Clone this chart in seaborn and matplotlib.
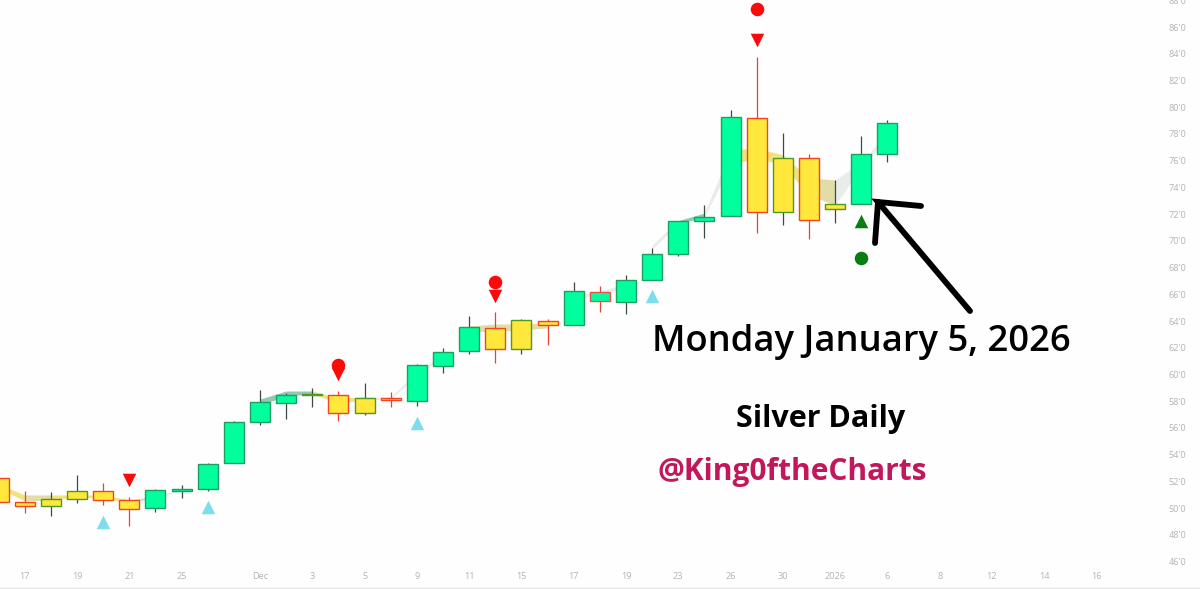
import numpy as np
import pandas as pd
import seaborn as sns
import matplotlib.pyplot as plt
from matplotlib.lines import Line2D

# daily candles
opens = [52.27, 50.48, 50.68, 51.30, 51.28, 50.60, 50.00, 51.28, 51.40, 53.35, 56.46, 57.86,
         58.52, 58.46, 58.26, 58.22, 58.04, 60.61, 61.78, 63.46, 64.05, 64.02, 63.70, 65.48,
         65.40, 67.09, 68.99, 71.46, 71.84, 79.22, 76.18, 76.18, 72.78, 72.74, 76.52]
highs = [52.27, 51.30, 51.18, 52.45, 51.85, 50.81, 51.40, 51.73, 53.37, 56.54, 58.84, 58.63,
         58.96, 58.74, 59.34, 58.71, 60.81, 61.96, 64.35, 64.65, 64.17, 64.15, 66.90, 66.62,
         67.42, 69.44, 71.52, 72.66, 79.80, 83.78, 78.05, 76.48, 74.56, 77.85, 79.05]
lows = [50.48, 49.65, 49.38, 50.40, 50.23, 48.66, 49.73, 50.73, 51.30, 53.35, 56.19, 56.64,
        57.59, 56.49, 56.94, 57.54, 57.66, 60.09, 61.51, 60.84, 61.51, 62.23, 63.70, 64.70,
        64.55, 67.09, 68.90, 70.21, 71.84, 70.59, 71.19, 70.16, 71.31, 72.74, 75.92]
closes = [50.48, 50.18, 50.13, 50.66, 50.60, 49.93, 51.35, 51.40, 53.28, 56.42, 57.92, 58.44,
          58.44, 57.09, 57.09, 58.11, 60.69, 61.70, 63.57, 61.88, 61.88, 63.68, 66.22, 66.19,
          67.09, 68.99, 71.45, 71.81, 79.29, 72.14, 72.14, 71.56, 72.36, 76.50, 78.80]
candle_kind = ['yr', 'yr', 'yg', 'yg', 'yr', 'yr', 'g', 'g', 'g', 'g', 'g', 'g',
               'yg', 'yr', 'yg', 'yr', 'g', 'g', 'g', 'yr', 'yg', 'yr', 'g', 'gr',
               'g', 'g', 'g', 'g', 'g', 'yr', 'yg', 'yr', 'yg', 'g', 'g']

# the soft ribbon behind the candles
band_upper = [51.80, 50.98, 50.98, 50.98, 50.98, 50.60, 50.90, 51.43, 52.10, 55.09, 58.16, 58.76,
              58.76, 58.24, 58.31, 58.31, 60.18, 61.53, 63.63, 63.78, 63.78, 63.85, 65.87, 66.25,
              66.77, 69.69, 71.52, 72.08, 76.80, 76.95, 76.43, 74.71, 74.56, 75.90, 78.07]
band_lower = [51.50, 50.53, 50.60, 50.83, 50.75, 50.38, 50.75, 51.28, 51.95, 54.72, 57.71, 58.39,
              58.54, 57.86, 58.09, 58.16, 59.88, 61.31, 63.18, 63.25, 63.33, 63.48, 65.65, 66.02,
              66.47, 69.39, 71.27, 71.79, 75.68, 76.21, 75.68, 73.43, 72.68, 75.46, 77.70]
band_kind = ['yellow', 'olive', 'yellow', 'yellow', 'yellow', 'grey', 'faint', None, None, None,
             'teal', 'teal', 'yellow', 'yellow', 'faint', 'faint', 'faint', None, 'olive', 'olive',
             'olive', None, 'faint', 'faint', None, 'faint', 'teal', 'faint', 'yellow', 'yellow',
             'yellow', 'olive', 'faint', 'faint']

# signal markers (candle number, price)
aqua_x = [4, 8, 16, 25]
aqua_y = [48.96, 50.08, 56.37, 65.87]
red_tri_x = [5, 13, 19, 29]
red_tri_y = [52.10, 60.03, 65.87, 85.03]
red_dot_x = [13, 19, 29]
red_dot_y = [60.71, 66.92, 87.32]
green_tri_x = [33]
green_tri_y = [71.45]
green_dot_x = [33]
green_dot_y = [68.72]

date_tick_pos = [1, 3, 5, 7, 10, 12, 14, 16, 18, 20, 22, 24, 26, 28, 30, 32, 34, 36, 38, 40, 42]
date_tick_labels = ['17', '19', '21', '25', 'Dec', '3', '5', '9', '11', '15', '17', '19', '23',
                    '26', '30', '2026', '6', '8', '12', '14', '16']
price_ticks = list(range(46, 90, 2))

fills = {'g': '#00ff9d', 'gr': '#00ff9d', 'yr': '#ffe73b', 'yg': '#ffe73b'}
edges = {'g': '#1f9e62', 'gr': '#e2574c', 'yr': '#f2451f', 'yg': '#4c9a1e'}
wicks = {'g': '#3b4a48', 'gr': '#e2453c', 'yr': '#ec4034', 'yg': '#3b4a48'}
band_colors = {'yellow': '#f1e280', 'olive': '#e2dda6', 'grey': '#d6dad4', 'teal': '#8ec9b6',
               'faint': '#e9ecea'}

df = pd.DataFrame({'open': opens, 'high': highs, 'low': lows, 'close': closes, 'kind': candle_kind})
df['x'] = np.arange(len(df))

sns.set_theme(style='white')
plt.rcParams['font.family'] = ['Open Sans', 'DejaVu Sans']

fig = plt.figure(figsize=(12, 5.89), dpi=100, facecolor='#fefefe')
ax = fig.add_axes([0, 21 / 589, 1160 / 1200, 568 / 589], facecolor='#fefefe')

# ribbon
for i, kind in enumerate(band_kind):
    if kind is None:
        continue
    ax.fill_between([i, i + 1], band_lower[i:i + 2], band_upper[i:i + 2],
                    color=band_colors[kind], lw=0, zorder=1)

# candles
for kind, part in df.groupby('kind'):
    ax.vlines(part['x'], part['low'], part['high'], color=wicks[kind], lw=0.9, zorder=2)
    ax.bar(part['x'], (part['open'] - part['close']).abs(),
           bottom=part[['open', 'close']].min(axis=1), width=0.765,
           facecolor=fills[kind], edgecolor=edges[kind], lw=1.0, zorder=3)

# signals
marker_sets = [(aqua_x, aqua_y, '^', '#7fdcec'), (red_tri_x, red_tri_y, 'v', '#fb0a0a'),
               (red_dot_x, red_dot_y, 'o', '#fb0a0a'), (green_tri_x, green_tri_y, '^', '#0a7d12'),
               (green_dot_x, green_dot_y, 'o', '#0a7d12')]
for xs, ys, mark, col in marker_sets:
    sns.scatterplot(x=xs, y=ys, marker=mark, color=col, s=95, linewidth=0, ax=ax, zorder=4)

ax.set_xlim(0.054, 44.43)
ax.set_ylim(45.51, 88.03)
ax.set_xticks(date_tick_pos)
ax.set_xticklabels(date_tick_labels)
ax.set_yticks(price_ticks)
ax.set_yticklabels([f"{p}'0" for p in price_ticks])
ax.yaxis.tick_right()
ax.tick_params(axis='both', length=0, labelsize=6.6, labelcolor='#b4b4b8')
ax.tick_params(axis='x', pad=3)
ax.tick_params(axis='y', pad=6)
sns.despine(ax=ax, left=True, bottom=True, top=True, right=True)

# hand drawn arrow and captions, placed in figure pixels
W, H = 1200, 589
arrow_x = np.array([970, 878, 921]) / W
arrow_y = 1 - np.array([311, 202, 206]) / H
fig.add_artist(Line2D(arrow_x, arrow_y, color='black', lw=4.2, solid_capstyle='round', solid_joinstyle='miter'))
fig.add_artist(Line2D(np.array([878, 875]) / W, 1 - np.array([202, 243]) / H, color='black', lw=4.2,
                      solid_capstyle='round'))
fig.add_artist(Line2D([0, 1], [1 - 587.5 / H] * 2, color='#e6e6e6', lw=1))

fig.text(861.5 / W, 1 - 342 / H, 'Monday January 5, 2026', ha='center', va='center',
         fontsize=26.2, fontweight='semibold', color='black', family=['Open Sans', 'DejaVu Sans'])
fig.text(821 / W, 1 - 419 / H, 'Silver Daily', ha='center', va='center',
         fontsize=22, fontweight='bold', color='black', family=['Open Sans', 'DejaVu Sans'])
fig.text(792 / W, 1 - 472 / H, '@King0ftheCharts', ha='center', va='center',
         fontsize=21.5, fontweight='bold', color='#c2185b', family=['Open Sans', 'DejaVu Sans'])

fig.savefig('out.png', dpi=100, facecolor=fig.get_facecolor())
